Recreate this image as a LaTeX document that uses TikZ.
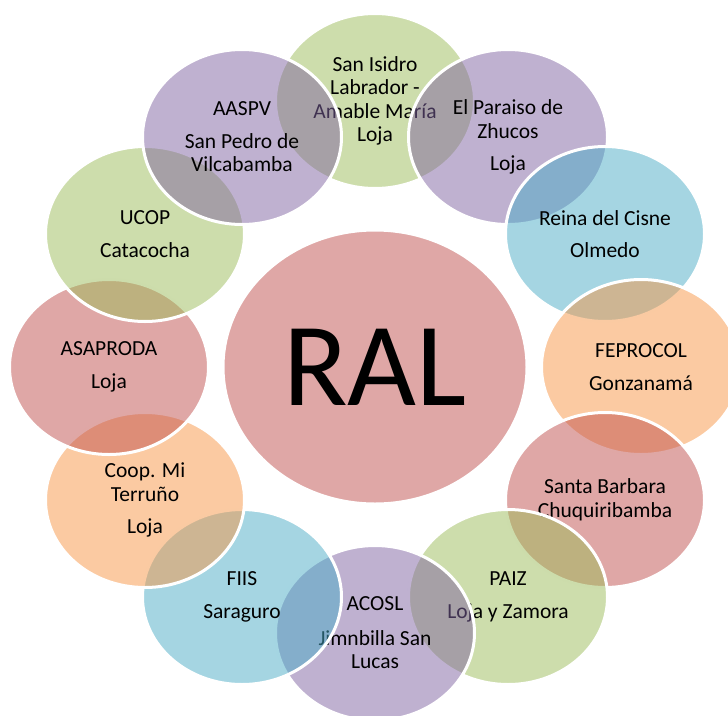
\documentclass[tikz,border=0pt]{standalone}
\usepackage{fontspec}
\setmainfont{Carlito}
\usetikzlibrary{shapes.geometric}
\definecolor{accgreen}{HTML}{9BBB59}
\definecolor{accpurple}{HTML}{8064A2}
\definecolor{accblue}{HTML}{4BACC6}
\definecolor{accorange}{HTML}{F79646}
\definecolor{accred}{HTML}{C0504D}

\begin{document}
\begin{tikzpicture}[x=1pt,y=-1pt,
  bubble/.style={ellipse,draw=white,line width=3pt,fill opacity=0.5,text opacity=1,
    inner sep=0pt,align=center,minimum width=199pt,minimum height=175pt,
    font=\fontsize{21.5}{23.5}\selectfont},
  hub/.style={bubble,minimum width=304pt,minimum height=274pt,
    font=\fontsize{119}{119}\selectfont}]
\clip (0,0) rectangle (728,715);
% centre
\node [hub,fill=accred] (ral) at (375,367) {RAL};
% ring, clockwise from the top
\node [bubble,fill=accgreen] (isidro) at (375,101) {San Isidro\\Labrador -\\Amable María\\Loja};
\node [bubble,fill=accpurple] (paraiso) at (508,137) {El Paraiso de\\Zhucos\\[9pt]Loja};
\node [bubble,fill=accblue] (reina) at (605,234) {Reina del Cisne\\[9pt]Olmedo};
\node [bubble,fill=accorange] (feprocol) at (641,367) {FEPROCOL\\[9pt]Gonzanamá};
\node [bubble,fill=accred] (barbara) at (605,500) {Santa Barbara\\Chuquiribamba};
\node [bubble,fill=accgreen] (paiz) at (508,597) {PAIZ\\[9pt]Loja y Zamora};
\node [bubble,fill=accpurple] (acosl) at (375,633) {ACOSL\\[11pt]Jimnbilla San\\Lucas};
\node [bubble,fill=accblue] (fiis) at (242,597) {FIIS\\[9pt]Saraguro};
\node [bubble,fill=accorange] (coop) at (145,500) {Coop. Mi\\Terruño\\[9pt]Loja};
\node [bubble,fill=accred] (asaproda) at (109,367) {ASAPRODA\\[9pt]Loja};
\node [bubble,fill=accgreen] (ucop) at (145,234) {UCOP\\[9pt]Catacocha};
\node [bubble,fill=accpurple] (aaspv) at (242,137) {AASPV\\[9pt]San Pedro de\\Vilcabamba};
\end{tikzpicture}
\end{document}
